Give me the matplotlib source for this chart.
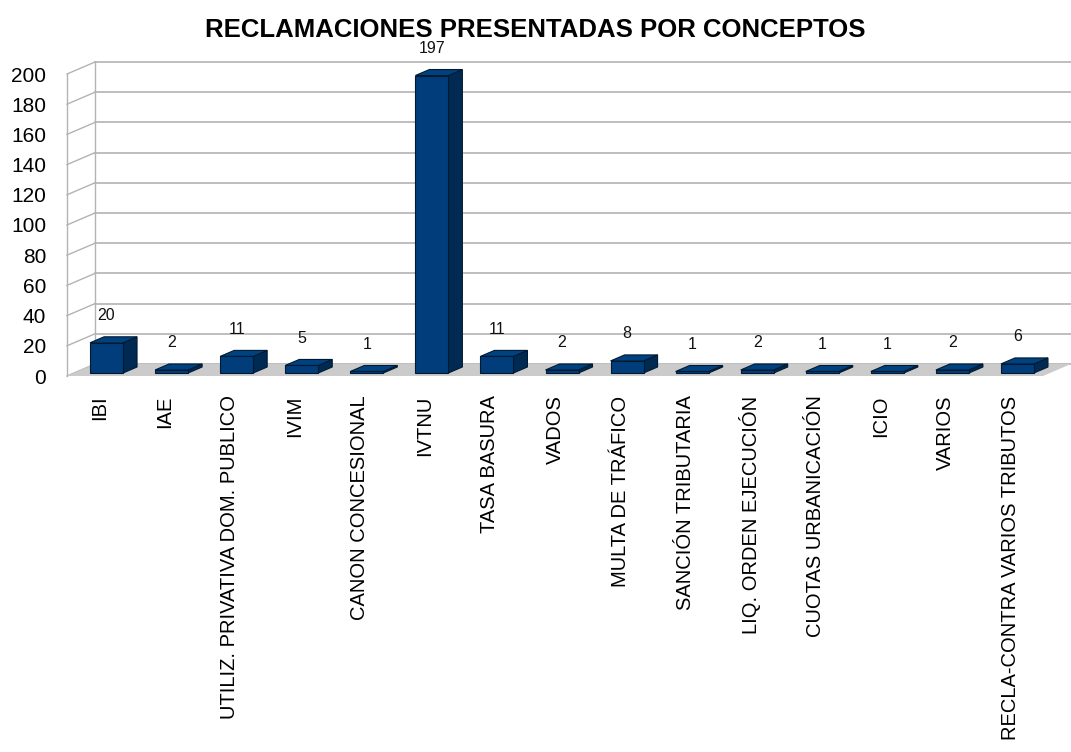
import matplotlib
matplotlib.use("Agg")
import matplotlib.pyplot as plt
from matplotlib.patches import Polygon

categories = ["IBI", "IAE", "UTILIZ. PRIVATIVA DOM. PUBLICO", "IVIM", "CANON CONCESIONAL",
              "IVTNU", "TASA BASURA", "VADOS", "MULTA DE TRÁFICO", "SANCIÓN TRIBUTARIA",
              "LIQ. ORDEN EJECUCIÓN", "CUOTAS URBANICACIÓN", "ICIO", "VARIOS",
              "RECLA-CONTRA VARIOS TRIBUTOS"]
values = [20, 2, 11, 5, 1, 197, 11, 2, 8, 1, 2, 1, 1, 2, 6]
yticks = [0, 20, 40, 60, 80, 100, 120, 140, 160, 180, 200]
title = "RECLAMACIONES PRESENTADAS POR CONCEPTOS"

plt.rcParams['font.family'] = ['Liberation Sans', 'DejaVu Sans']

W, H = 1071, 752
fig = plt.figure(figsize=(W / 100, H / 100), dpi=100)
x0p, x1p, ytop, ybot = 67, 1043, 74, 376
ax = fig.add_axes([x0p / W, (H - ybot) / H, (x1p - x0p) / W, (ybot - ytop) / H])
n = len(categories)
ax.set_xlim(-0.5, n - 0.5)
ax.set_ylim(0, 200)
for s in ax.spines.values():
    s.set_visible(False)
ax.set_facecolor('none')

px_per_cat = (x1p - x0p) / n
px_per_unit = (ybot - ytop) / 200
Dx = 28 / px_per_cat
Dy = 12 / px_per_unit
grid_c = '#b3b3b3'

# floor
floor = Polygon([(-0.5, 0), (n - 0.5, 0), (n - 0.5 + Dx, Dy), (-0.5 + Dx, Dy)],
                closed=True, facecolor='#cbcbcb', edgecolor='none', clip_on=False, zorder=1)
ax.add_patch(floor)

# walls / gridlines
for t in yticks:
    ax.plot([-0.5 + Dx, n - 0.5 + Dx], [t + Dy, t + Dy], color=grid_c, lw=1.2, clip_on=False, zorder=0.5)
    ax.plot([-0.5, -0.5 + Dx], [t, t + Dy], color=grid_c, lw=1.0, clip_on=False, zorder=0.5)
ax.plot([-0.5, -0.5], [0, 200], color=grid_c, lw=1.0, clip_on=False, zorder=0.5)
ax.plot([-0.5 + Dx, -0.5 + Dx], [Dy, 200 + Dy], color=grid_c, lw=1.0, clip_on=False, zorder=0.5)

# bars
bw = 33 / px_per_cat
front_c, side_c, top_c, edge_c = '#003d7a', '#002a52', '#00427f', '#001a33'
fx, fy = 0.25 * Dx, 0.25 * Dy
bx, by = 0.5 * Dx, 0.5 * Dy
for i, v in enumerate(values):
    xl = i - bw / 2 + fx
    xr = i + bw / 2 + fx
    yb = fy
    yt = v + fy
    front = Polygon([(xl, yb), (xr, yb), (xr, yt), (xl, yt)], closed=True,
                    facecolor=front_c, edgecolor=edge_c, lw=0.8, clip_on=False, zorder=3)
    side = Polygon([(xr, yb), (xr + bx, yb + by), (xr + bx, yt + by), (xr, yt)], closed=True,
                   facecolor=side_c, edgecolor=edge_c, lw=0.8, clip_on=False, zorder=3)
    top = Polygon([(xl, yt), (xr, yt), (xr + bx, yt + by), (xl + bx, yt + by)], closed=True,
                  facecolor=top_c, edgecolor=edge_c, lw=0.8, clip_on=False, zorder=3)
    for p in (side, top, front):
        ax.add_patch(p)
    ax.text(i + fx, yt + 27 / px_per_unit, str(v), ha='center', va='center',
            fontsize=11.5, color='#111111', zorder=4, clip_on=False)

ax.set_yticks(yticks)
ax.set_yticklabels([str(t) for t in yticks], fontsize=15)
ax.tick_params(axis='y', length=0, pad=15)
ax.set_xticks(range(n))
ax.set_xticklabels(categories, rotation=90, fontsize=14.5, va='top', ha='center')
ax.tick_params(axis='x', length=0, pad=14)

fig.text(0.5, 1 - 30 / H, title, ha='center', va='center', fontsize=18.5, fontweight='bold')

fig.savefig('out.png', dpi=100)
